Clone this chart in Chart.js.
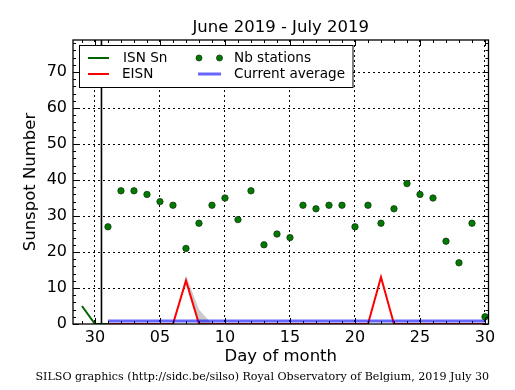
<!DOCTYPE html>
<html>
<head>
<meta charset="utf-8">
<title>Sunspot Number June - July 2019</title>
<script src="https://cdn.jsdelivr.net/npm/chart.js@4.4.0/dist/chart.umd.min.js"></script>
<style>
    html, body { margin: 0; padding: 0; background: #fff; }
    canvas { display: block; }
</style>
</head>
<body>
<canvas id="sunspots" width="515" height="390"></canvas>
<script>
// Days are counted from 30 June (0 = June 30, 1..30 = July 1..30)
const isnDays = [-1, 0, 1];
const isnValues = [5, 0, 0];

const julyDays = [1, 2, 3, 4, 5, 6, 7, 8, 9, 10, 11, 12, 13, 14, 15,
    16, 17, 18, 19, 20, 21, 22, 23, 24, 25, 26, 27, 28, 29, 30];
const eisnValues = [0, 0, 0, 0, 0, 0, 12, 0, 0, 0, 0, 0, 0, 0, 0,
    0, 0, 0, 0, 0, 0, 13, 0, 0, 0, 0, 0, 0, 0, 0];
const eisnUpper = [0, 0, 0, 0, 0, 0, 13.5, 4, 0, 0, 0, 0, 0, 0, 0,
    0, 0, 0, 0, 0, 0, 14, 0, 0, 0, 0, 0, 0, 0, 0];
const stationCounts = [27, 37, 37, 36, 34, 33, 21, 28, 33, 35, 29, 37, 22, 25, 24,
    33, 32, 33, 33, 27, 33, 28, 32, 39, 36, 35, 23, 17, 28, 2];

const averageDays = [1, 30];
const averageValues = [0.8, 0.8];

const monthBoundary = [0.5];

const xTickValues = [0, 5, 10, 15, 20, 25, 30];
const xTickLabels = ['30', '05', '10', '15', '20', '25', '30'];
const yTickValues = [0, 10, 20, 30, 40, 50, 60, 70];

const X_MIN = -1.69, X_MAX = 30.27;
const Y_MIN = 0, Y_MAX = 78.9;

const FONT = "'DejaVu Sans', sans-serif";
Chart.defaults.font.family = FONT;
Chart.defaults.color = '#000';

function pts(xs, ys) {
    return xs.map((x, i) => ({ x: x, y: ys[i] }));
}

// Frame around the plot + inward minor/major ticks on all four sides
const framePlugin = {
    id: 'frame',
    afterDatasetsDraw(chart) {
        const { ctx, chartArea: a, scales } = chart;
        ctx.save();
        ctx.strokeStyle = '#000';
        ctx.lineWidth = 1;
        ctx.beginPath();
        for (let d = Math.ceil(X_MIN); d <= Math.floor(X_MAX); d++) {
            const px = Math.round(scales.x.getPixelForValue(d)) + 0.5;
            const len = d % 5 === 0 ? 6 : 3;
            ctx.moveTo(px, a.bottom); ctx.lineTo(px, a.bottom - len);
            ctx.moveTo(px, a.top); ctx.lineTo(px, a.top + len);
        }
        for (let v = 0; v <= Y_MAX; v += 2) {
            const py = Math.round(scales.y.getPixelForValue(v)) + 0.5;
            const len = v % 10 === 0 ? 6 : 3;
            ctx.moveTo(a.left, py); ctx.lineTo(a.left + len, py);
            ctx.moveTo(a.right, py); ctx.lineTo(a.right - len, py);
        }
        ctx.stroke();
        ctx.lineWidth = 1.3;
        ctx.strokeRect(a.left, a.top, a.right - a.left, a.bottom - a.top);
        ctx.restore();
    }
};

// Title centred over the plot and the credit line at the bottom
const textPlugin = {
    id: 'texts',
    afterDraw(chart) {
        const { ctx, chartArea: a } = chart;
        ctx.save();
        ctx.fillStyle = '#000';
        ctx.textAlign = 'center';
        ctx.textBaseline = 'middle';
        ctx.font = '16.5px ' + FONT;
        ctx.fillText('June 2019 - July 2019', (a.left + a.right) / 2, 27.4);
        ctx.font = "11.1px 'DejaVu Serif', serif";
        ctx.fillText('SILSO graphics (http://sidc.be/silso) Royal Observatory of Belgium, 2019 July 30', 262.3, 377);
        ctx.restore();
    }
};

// Legend box drawn inside the plot, two columns
const legendPlugin = {
    id: 'legendBox',
    afterDraw(chart) {
        const ctx = chart.ctx;
        ctx.save();
        ctx.fillStyle = '#fff';
        ctx.fillRect(79.5, 45.5, 273.5, 42);
        ctx.strokeStyle = '#000';
        ctx.lineWidth = 1;
        ctx.strokeRect(79.5, 45.5, 273.5, 42);

        const row1 = 58, row2 = 74;
        ctx.lineWidth = 2;
        ctx.strokeStyle = '#006400';
        ctx.beginPath(); ctx.moveTo(88, row1); ctx.lineTo(109, row1); ctx.stroke();
        ctx.strokeStyle = '#ff0000';
        ctx.beginPath(); ctx.moveTo(88, row2); ctx.lineTo(109, row2); ctx.stroke();

        ctx.fillStyle = '#007a00';
        ctx.strokeStyle = '#163816';
        ctx.lineWidth = 0.8;
        [199, 219.5].forEach(cx => {
            ctx.beginPath(); ctx.arc(cx, row1, 3, 0, Math.PI * 2); ctx.fill(); ctx.stroke();
        });
        ctx.strokeStyle = 'rgba(0,0,255,0.6)';
        ctx.lineWidth = 3;
        ctx.beginPath(); ctx.moveTo(198, row2); ctx.lineTo(221, row2); ctx.stroke();

        ctx.fillStyle = '#000';
        ctx.font = '13.6px ' + FONT;
        ctx.textBaseline = 'middle';
        ctx.textAlign = 'left';
        ctx.fillText('ISN Sn', 123, row1);
        ctx.fillText('EISN', 122, row2);
        ctx.fillText('Nb stations', 234, row1);
        ctx.fillText('Current average', 234, row2);
        ctx.restore();
    }
};

const ctx = document.getElementById('sunspots').getContext('2d');

const sunspotChart = new Chart(ctx, {
    type: 'line',
    data: {
        datasets: [
            {
                label: 'Nb stations',
                data: pts(julyDays, stationCounts),
                showLine: false,
                pointRadius: 3.2,
                pointBackgroundColor: '#007a00',
                pointBorderColor: '#163816',
                pointBorderWidth: 0.8,
                order: 0
            },
            {
                label: 'Current average',
                data: pts(averageDays, averageValues),
                borderColor: 'rgba(0,0,255,0.6)',
                borderWidth: 3,
                pointRadius: 0,
                order: 1
            },
            {
                label: 'EISN',
                data: pts(julyDays, eisnValues),
                borderColor: '#ff0000',
                borderWidth: 2,
                pointRadius: 0,
                order: 2
            },
            {
                label: 'EISN error',
                data: pts(julyDays, eisnUpper),
                borderWidth: 0,
                borderColor: 'rgba(0,0,0,0)',
                backgroundColor: 'rgba(150,150,150,0.5)',
                fill: 2,
                pointRadius: 0,
                order: 3
            },
            {
                label: 'ISN Sn',
                data: pts(isnDays, isnValues),
                borderColor: '#006400',
                borderWidth: 2,
                pointRadius: 0,
                order: 4
            },
            {
                label: 'Month boundary',
                data: [{ x: monthBoundary[0], y: Y_MIN }, { x: monthBoundary[0], y: Y_MAX }],
                borderColor: '#000',
                borderWidth: 1.6,
                pointRadius: 0,
                order: 5
            }
        ]
    },
    options: {
        responsive: false,
        animation: false,
        devicePixelRatio: 1,
        layout: { padding: { left: 0, right: 26.5, top: 40, bottom: 21.6 } },
        scales: {
            x: {
                type: 'linear',
                min: X_MIN,
                max: X_MAX,
                afterBuildTicks: s => { s.ticks = xTickValues.map(v => ({ value: v })); },
                afterFit: s => { s.height = 44.4; },
                grid: { drawTicks: false, tickLength: 0, color: '#000', lineWidth: 1 },
                border: { display: false, dash: [2, 3] },
                ticks: {
                    padding: 4.5,
                    autoSkip: false,
                    maxRotation: 0,
                    font: { size: 16 },
                    color: '#000',
                    callback: v => xTickLabels[xTickValues.indexOf(v)]
                },
                title: {
                    display: true,
                    text: 'Day of month',
                    font: { size: 16.5 },
                    color: '#000',
                    padding: { top: 0, bottom: 1.5 }
                }
            },
            y: {
                min: Y_MIN,
                max: Y_MAX,
                afterBuildTicks: s => { s.ticks = yTickValues.map(v => ({ value: v })); },
                afterFit: s => { s.width = 73; },
                grid: {
                    drawTicks: false,
                    tickLength: 0,
                    lineWidth: 1,
                    color: c => (c.tick && c.tick.value === 0) ? 'rgba(0,0,0,0)' : '#000'
                },
                border: { display: false, dash: [2, 3] },
                ticks: { padding: 6, font: { size: 16 }, color: '#000' },
                title: {
                    display: true,
                    text: 'Sunspot Number',
                    font: { size: 16.5 },
                    color: '#000',
                    padding: { top: 21, bottom: 0 }
                }
            }
        },
        plugins: {
            legend: { display: false },
            tooltip: { enabled: false },
            title: { display: false },
            subtitle: { display: false }
        }
    },
    plugins: [framePlugin, textPlugin, legendPlugin]
});
</script>
</body>
</html>
